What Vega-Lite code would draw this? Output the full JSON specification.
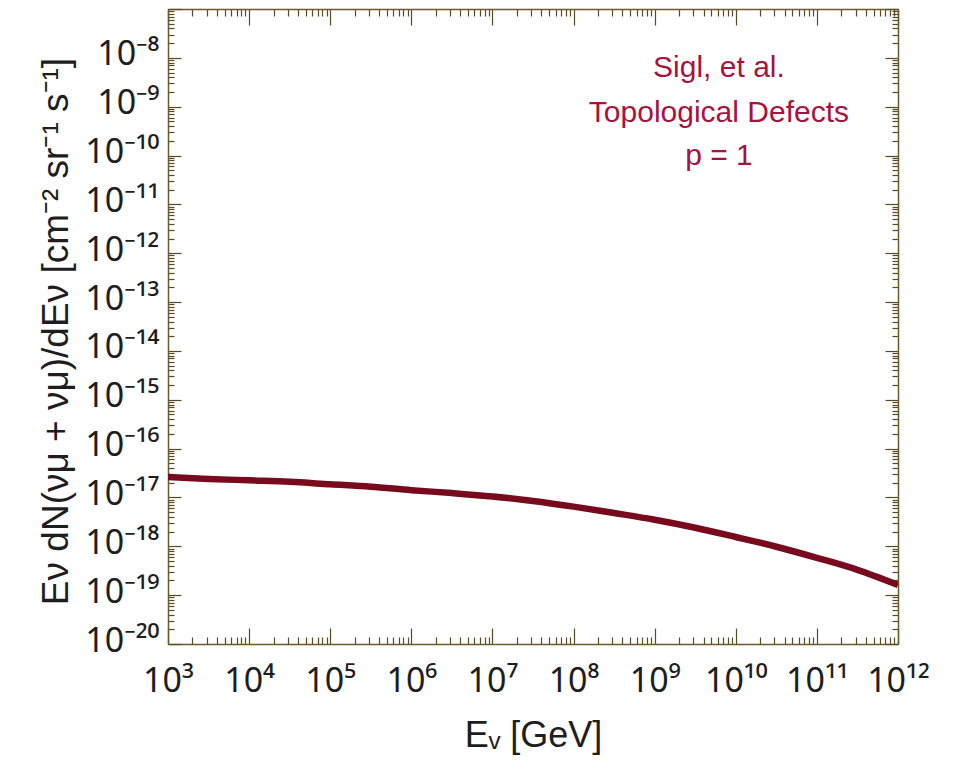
{
  "$schema": "https://vega.github.io/schema/vega-lite/v6.json",
  "width": 730,
  "height": 635,
  "autosize": "none",
  "padding": {"left": 168, "top": 9, "right": 57, "bottom": 121},
  "background": "white",
  "datasets": {
    "curve": [
      {"E": 1e3, "F": 2.63e-17},
      {"E": 3.16e3, "F": 2.40e-17},
      {"E": 1e4, "F": 2.24e-17},
      {"E": 3.16e4, "F": 2.09e-17},
      {"E": 1e5, "F": 1.86e-17},
      {"E": 3.16e5, "F": 1.66e-17},
      {"E": 1e6, "F": 1.41e-17},
      {"E": 3.16e6, "F": 1.23e-17},
      {"E": 1e7, "F": 1.05e-17},
      {"E": 3.16e7, "F": 8.5e-18},
      {"E": 1e8, "F": 6.5e-18},
      {"E": 3.16e8, "F": 4.8e-18},
      {"E": 1e9, "F": 3.5e-18},
      {"E": 3.16e9, "F": 2.4e-18},
      {"E": 1e10, "F": 1.55e-18},
      {"E": 3.16e10, "F": 9.8e-19},
      {"E": 1e11, "F": 5.8e-19},
      {"E": 3.16e11, "F": 3.3e-19},
      {"E": 1e12, "F": 1.62e-19}
    ],
    "notes": [
      {"t": "Sigl, et al.", "E": 6.2e9, "F": 4.06e-9},
      {"t": "Topological  Defects", "E": 6.2e9, "F": 4.86e-10},
      {"t": "p = 1", "E": 6.2e9, "F": 6.41e-11}
    ]
  },
  "config": {
    "view": {"stroke": null},
    "axis": {
      "grid": false,
      "domainColor": "#6b5a2e",
      "domainWidth": 1.5,
      "tickColor": "#5a4a24",
      "tickWidth": 1.2,
      "labelFont": "Noto Sans, Liberation Sans, sans-serif",
      "labelFontSize": 34,
      "labelColor": "#1e1e1e",
      "titleFont": "Liberation Sans, sans-serif",
      "titleColor": "#1e1e1e",
      "titleFontWeight": "normal"
    }
  },
  "resolve": {"axis": {"x": "independent", "y": "independent"}},
  "layer": [
    {
      "data": {"name": "curve"},
      "mark": {"type": "line", "color": "#780a1e", "strokeWidth": 6.5, "interpolate": "monotone", "clip": true},
      "encoding": {
        "x": {
          "field": "E", "type": "quantitative",
          "scale": {"type": "log", "domain": [1e3, 1e12], "nice": false},
          "axis": {
            "orient": "bottom",
            "title": "Eᵥ [GeV]",
            "titleFontSize": 36,
            "titleX": 365,
            "titleY": 102,
            "titleBaseline": "alphabetic",
            "titleAlign": "center",
            "labelPadding": 36,
            "labelFlush": false,
            "labelOverlap": false,
            "values": [1e3,2e3,3e3,4e3,5e3,6e3,7e3,8e3,9e3,1e4,2e4,3e4,4e4,5e4,6e4,7e4,8e4,9e4,1e5,2e5,3e5,4e5,5e5,6e5,7e5,8e5,9e5,1e6,2e6,3e6,4e6,5e6,6e6,7e6,8e6,9e6,1e7,2e7,3e7,4e7,5e7,6e7,7e7,8e7,9e7,1e8,2e8,3e8,4e8,5e8,6e8,7e8,8e8,9e8,1e9,2e9,3e9,4e9,5e9,6e9,7e9,8e9,9e9,1e10,2e10,3e10,4e10,5e10,6e10,7e10,8e10,9e10,1e11,2e11,3e11,4e11,5e11,6e11,7e11,8e11,9e11,1e12],
            "labelExpr": "abs(log(datum.value)/LN10 - round(log(datum.value)/LN10)) < 0.01 ? '10' + (round(log(datum.value)/LN10) >= 10 ? '¹' + substring('⁰¹²³⁴⁵⁶⁷⁸⁹', round(log(datum.value)/LN10) - 10, round(log(datum.value)/LN10) - 9) : substring('⁰¹²³⁴⁵⁶⁷⁸⁹', round(log(datum.value)/LN10), round(log(datum.value)/LN10) + 1)) : ''",
            "tickSize": {"condition": {"test": "abs(log(datum.value)/LN10 - round(log(datum.value)/LN10)) < 0.01", "value": -16}, "value": -7}
          }
        },
        "y": {
          "field": "F", "type": "quantitative",
          "scale": {"type": "log", "domain": [1e-20, 1e-7], "nice": false},
          "axis": {
            "orient": "left",
            "title": "Eν dN(νμ + νμ)/dEν  [cm⁻² sr⁻¹ s⁻¹]",
            "titleFontSize": 37,
            "titleAngle": -90,
            "titleX": -101,
            "titleY": 322,
            "titleBaseline": "alphabetic",
            "titleAlign": "center",
            "labelPadding": 22,
            "labelOffset": -3,
            "labelFlush": false,
            "labelOverlap": false,
            "values": [1e-20,2e-20,3e-20,4e-20,5e-20,6e-20,7e-20,8e-20,9e-20,1e-19,2e-19,3e-19,4e-19,5e-19,6e-19,7e-19,8e-19,9e-19,1e-18,2e-18,3e-18,4e-18,5e-18,6e-18,7e-18,8e-18,9e-18,1e-17,2e-17,3e-17,4e-17,5e-17,6e-17,7e-17,8e-17,9e-17,1e-16,2e-16,3e-16,4e-16,5e-16,6e-16,7e-16,8e-16,9e-16,1e-15,2e-15,3e-15,4e-15,5e-15,6e-15,7e-15,8e-15,9e-15,1e-14,2e-14,3e-14,4e-14,5e-14,6e-14,7e-14,8e-14,9e-14,1e-13,2e-13,3e-13,4e-13,5e-13,6e-13,7e-13,8e-13,9e-13,1e-12,2e-12,3e-12,4e-12,5e-12,6e-12,7e-12,8e-12,9e-12,1e-11,2e-11,3e-11,4e-11,5e-11,6e-11,7e-11,8e-11,9e-11,1e-10,2e-10,3e-10,4e-10,5e-10,6e-10,7e-10,8e-10,9e-10,1e-9,2e-9,3e-9,4e-9,5e-9,6e-9,7e-9,8e-9,9e-9,1e-8,2e-8,3e-8,4e-8,5e-8,6e-8,7e-8,8e-8,9e-8,1e-7],
            "labelExpr": "abs(log(datum.value)/LN10 - round(log(datum.value)/LN10)) < 0.01 && datum.value < 5e-8 ? '10⁻' + (round(-log(datum.value)/LN10) >= 10 ? substring('⁰¹²³⁴⁵⁶⁷⁸⁹', floor(round(-log(datum.value)/LN10)/10), floor(round(-log(datum.value)/LN10)/10) + 1) : '') + substring('⁰¹²³⁴⁵⁶⁷⁸⁹', round(-log(datum.value)/LN10) % 10, round(-log(datum.value)/LN10) % 10 + 1) : ''",
            "tickSize": {"condition": {"test": "abs(log(datum.value)/LN10 - round(log(datum.value)/LN10)) < 0.01", "value": -13}, "value": -6}
          }
        }
      }
    },
    {
      "data": {"name": "notes"},
      "mark": {"type": "text", "color": "#a8123e", "font": "Liberation Sans, sans-serif", "fontSize": 30, "align": "center", "baseline": "alphabetic"},
      "encoding": {
        "text": {"field": "t"},
        "x": {
          "field": "E", "type": "quantitative",
          "axis": {
            "orient": "top", "title": null, "labels": false,
            "values": [1e3,2e3,3e3,4e3,5e3,6e3,7e3,8e3,9e3,1e4,2e4,3e4,4e4,5e4,6e4,7e4,8e4,9e4,1e5,2e5,3e5,4e5,5e5,6e5,7e5,8e5,9e5,1e6,2e6,3e6,4e6,5e6,6e6,7e6,8e6,9e6,1e7,2e7,3e7,4e7,5e7,6e7,7e7,8e7,9e7,1e8,2e8,3e8,4e8,5e8,6e8,7e8,8e8,9e8,1e9,2e9,3e9,4e9,5e9,6e9,7e9,8e9,9e9,1e10,2e10,3e10,4e10,5e10,6e10,7e10,8e10,9e10,1e11,2e11,3e11,4e11,5e11,6e11,7e11,8e11,9e11,1e12],
            "tickSize": {"condition": {"test": "abs(log(datum.value)/LN10 - round(log(datum.value)/LN10)) < 0.01", "value": -16}, "value": -7}
          }
        },
        "y": {
          "field": "F", "type": "quantitative",
          "axis": {
            "orient": "right", "title": null, "labels": false,
            "values": [1e-20,2e-20,3e-20,4e-20,5e-20,6e-20,7e-20,8e-20,9e-20,1e-19,2e-19,3e-19,4e-19,5e-19,6e-19,7e-19,8e-19,9e-19,1e-18,2e-18,3e-18,4e-18,5e-18,6e-18,7e-18,8e-18,9e-18,1e-17,2e-17,3e-17,4e-17,5e-17,6e-17,7e-17,8e-17,9e-17,1e-16,2e-16,3e-16,4e-16,5e-16,6e-16,7e-16,8e-16,9e-16,1e-15,2e-15,3e-15,4e-15,5e-15,6e-15,7e-15,8e-15,9e-15,1e-14,2e-14,3e-14,4e-14,5e-14,6e-14,7e-14,8e-14,9e-14,1e-13,2e-13,3e-13,4e-13,5e-13,6e-13,7e-13,8e-13,9e-13,1e-12,2e-12,3e-12,4e-12,5e-12,6e-12,7e-12,8e-12,9e-12,1e-11,2e-11,3e-11,4e-11,5e-11,6e-11,7e-11,8e-11,9e-11,1e-10,2e-10,3e-10,4e-10,5e-10,6e-10,7e-10,8e-10,9e-10,1e-9,2e-9,3e-9,4e-9,5e-9,6e-9,7e-9,8e-9,9e-9,1e-8,2e-8,3e-8,4e-8,5e-8,6e-8,7e-8,8e-8,9e-8,1e-7],
            "tickSize": {"condition": {"test": "abs(log(datum.value)/LN10 - round(log(datum.value)/LN10)) < 0.01", "value": -13}, "value": -6}
          }
        }
      }
    }
  ]
}
